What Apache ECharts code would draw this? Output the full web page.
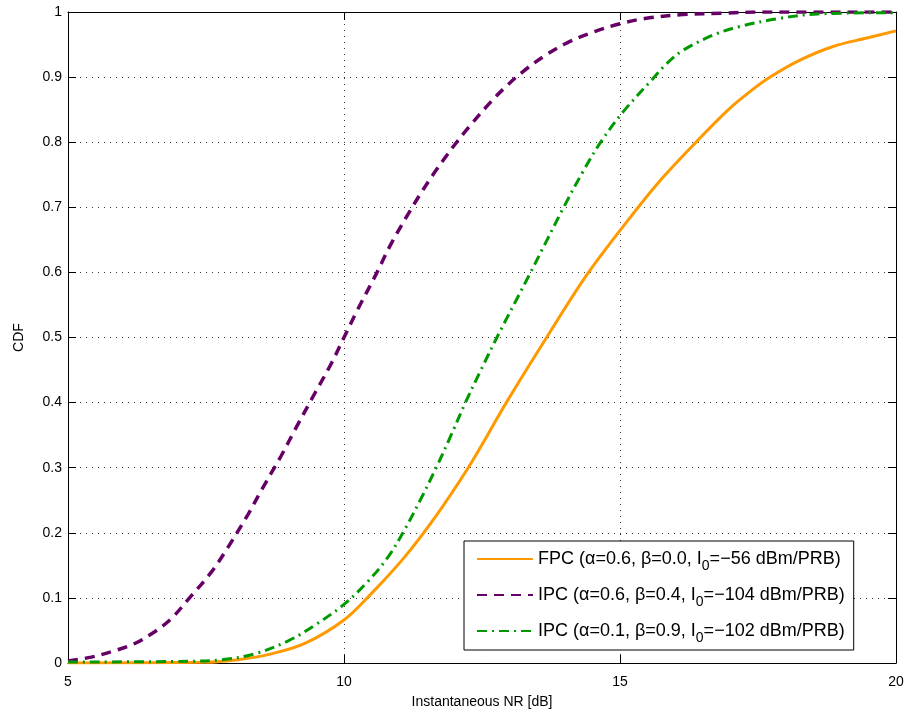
<!DOCTYPE html>
<html><head><meta charset="utf-8">
<script src="https://cdn.jsdelivr.net/npm/echarts@6/dist/echarts.min.js"></script>
<style>html,body{margin:0;padding:0;background:#fff}#c{width:907px;height:715px}</style>
</head><body><div id="c"></div>
<script>
const xTicks = [5, 10, 15, 20];
const yTicks = [0, 0.1, 0.2, 0.3, 0.4, 0.5, 0.6, 0.7, 0.8, 0.9, 1];
const seriesNames = [
  'FPC (α=0.6, β=0.0, I{sub|0}=−56 dBm/PRB)',
  'IPC (α=0.6, β=0.4, I{sub|0}=−104 dBm/PRB)',
  'IPC (α=0.1, β=0.9, I{sub|0}=−102 dBm/PRB)'
];
const fpc = [[5,0],[7.48,0.001],[8.08,0.005],[8.68,0.014],[9.29,0.03],[10,0.066],[10.5,0.107],[11.1,0.163],[11.7,0.23],[12.25,0.3],[12.6,0.35],[12.94,0.4],[13.67,0.5],[14.43,0.6],[15.33,0.7],[15.8,0.748],[16.4,0.802],[16.95,0.849],[17.36,0.878],[17.72,0.9],[18.26,0.926],[18.86,0.947],[19.47,0.96],[20,0.971]];
const ipc1 = [[5,0.003],[5.42,0.009],[5.85,0.019],[6.21,0.03],[6.57,0.048],[6.87,0.068],[7.17,0.097],[7.6,0.14],[7.9,0.178],[8.26,0.228],[8.5,0.265],[8.86,0.318],[9.11,0.358],[9.47,0.414],[9.77,0.46],[10,0.5],[10.23,0.54],[10.58,0.597],[10.86,0.645],[11.2,0.695],[11.41,0.724],[11.62,0.751],[11.83,0.776],[12.04,0.8],[12.25,0.822],[12.66,0.862],[12.94,0.886],[13.22,0.907],[13.64,0.933],[14.05,0.953],[14.54,0.97],[15,0.982],[15.45,0.99],[16.14,0.996],[16.84,0.998],[17.5,1],[20,1]];
const ipc2 = [[5,0.0015],[7.17,0.0026],[7.78,0.005],[8.38,0.014],[8.99,0.034],[9.47,0.058],[10,0.09],[10.43,0.125],[10.8,0.163],[11.1,0.205],[11.38,0.25],[11.67,0.3],[11.94,0.35],[12.2,0.4],[12.48,0.45],[12.77,0.5],[13.38,0.6],[13.98,0.7],[14.33,0.755],[14.65,0.8],[15.06,0.847],[15.6,0.898],[15.85,0.921],[16.14,0.941],[16.7,0.965],[17.18,0.978],[17.88,0.99],[18.57,0.997],[20,0.999]];

const font = 'Liberation Sans, Arial, Helvetica, sans-serif';
const chart = echarts.init(document.getElementById('c'));
const baseAxis = {
  axisLine: {show: true, onZero: false, lineStyle: {color: '#000', width: 1}},
  axisTick: {show: true, inside: true, length: 8, lineStyle: {color: '#000'}},
  axisLabel: {color: '#000', fontSize: 14, fontFamily: font},
  splitLine: {show: false}
};
chart.setOption({
  animation: false,
  backgroundColor: '#fff',
  grid: {left: 68, right: 11, top: 12, bottom: 52, show: false},
  xAxis: [
    Object.assign({}, baseAxis, {type: 'value', min: xTicks[0], max: xTicks[xTicks.length-1], interval: 5, position: 'bottom',
      name: 'Instantaneous NR [dB]', nameLocation: 'middle', nameGap: 32,
      nameTextStyle: {color: '#000', fontSize: 14, fontFamily: font},
      axisLabel: {color: '#000', fontSize: 14, fontFamily: font, margin: 12},
      splitLine: {show: true, lineStyle: {color: '#333', type: [1, 5], width: 1}}}),
    Object.assign({}, baseAxis, {type: 'value', min: 5, max: 20, interval: 5, position: 'top', axisLabel: {show: false}})
  ],
  yAxis: [
    Object.assign({}, baseAxis, {type: 'value', min: 0, max: 1, interval: 0.1, position: 'left',
      name: 'CDF', nameLocation: 'middle', nameGap: 42, nameRotate: 90,
      nameTextStyle: {color: '#000', fontSize: 14, fontFamily: font},
      axisLabel: {color: '#000', fontSize: 14, fontFamily: font, margin: 6,
        formatter: v => { const t = yTicks.find(k => Math.abs(k - v) < 1e-9); return t === undefined ? '' : String(t); }},
      splitLine: {show: true, lineStyle: {color: '#333', type: [1, 5], width: 1}}}),
    Object.assign({}, baseAxis, {type: 'value', min: 0, max: 1, interval: 0.1, position: 'right', axisLabel: {show: false}})
  ],
  legend: {
    show: true,
    orient: 'vertical', left: 464, top: 541,
    backgroundColor: '#fff', borderColor: '#000', borderWidth: 1,
    padding: [9, 9, 5, 12], itemGap: 13, itemWidth: 56, itemHeight: 14,
    itemStyle: {opacity: 0},
    textStyle: {color: '#000', fontSize: 18, fontFamily: font,
      rich: {sub: {fontSize: 14, fontFamily: font, padding: [14, 0, 0, 0], color: '#000'}}}
  },
  series: [
    {name: seriesNames[0], type: 'line', data: fpc, symbol: 'none', smooth: 0.35,
      lineStyle: {color: '#FF9900', width: 3, type: 'solid'}, itemStyle: {color: '#FF9900'}, z: 3},
    {name: seriesNames[1], type: 'line', data: ipc1, symbol: 'none', smooth: 0.35,
      lineStyle: {color: '#660066', width: 3.5, type: [10, 7]}, itemStyle: {color: '#660066'}, z: 4},
    {name: seriesNames[2], type: 'line', data: ipc2, symbol: 'none', smooth: 0.35,
      lineStyle: {color: '#009900', width: 3, type: [10, 5, 2, 5]}, itemStyle: {color: '#009900'}, z: 5}
  ]
});
</script></body></html>
